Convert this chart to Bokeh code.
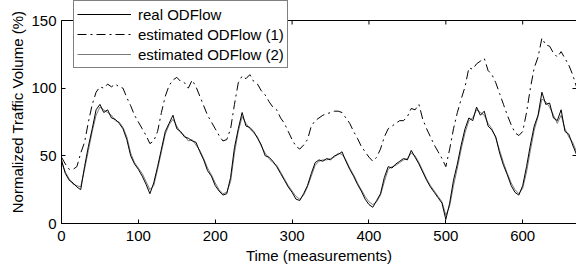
from bokeh.plotting import figure
from bokeh.models import Range1d, LinearAxis, FixedTicker, Legend, LegendItem, Span
from bokeh.embed import file_html
from bokeh.resources import INLINE

# time axis (measurements), sampled every 5
time = list(range(0, 671, 5))

real = [47, 37, 32, 30, 27, 25, 42, 57, 70, 84, 88, 82, 84, 78, 77, 74, 70, 62, 50, 44,
        40, 35, 29, 22, 30, 42, 55, 68, 74, 80, 70, 68, 64, 63, 61, 60, 53, 47, 39, 35,
        28, 24, 21, 22, 34, 56, 70, 82, 72, 71, 68, 63, 58, 50, 49, 46, 42, 37, 32, 27,
        23, 18, 17, 22, 28, 37, 45, 47, 46, 48, 47, 50, 51, 53, 46, 40, 35, 29, 24, 18,
        14, 12, 17, 22, 34, 42, 41, 44, 46, 48, 47, 54, 49, 44, 38, 32, 27, 23, 19, 15,
        3, 15, 32, 44, 58, 70, 78, 76, 86, 80, 83, 72, 69, 64, 52, 43, 36, 28, 23, 21,
        28, 42, 58, 72, 80, 97, 88, 89, 78, 76, 84, 68, 66, 58, 51]

est1 = [49, 44, 40, 40, 42, 52, 60, 75, 88, 97, 101, 100, 103, 101, 103, 101, 100, 93, 87, 80,
        75, 70, 65, 59, 61, 68, 82, 94, 102, 106, 108, 105, 104, 100, 106, 101, 94, 87, 80, 75,
        70, 65, 61, 62, 70, 88, 104, 109, 107, 110, 105, 103, 98, 95, 90, 86, 84, 78, 74, 68,
        62, 57, 55, 58, 62, 72, 76, 78, 80, 81, 82, 83, 83, 82, 78, 74, 68, 63, 57, 53,
        49, 46, 49, 55, 64, 70, 72, 74, 76, 76, 79, 85, 84, 88, 77, 70, 64, 58, 53, 48,
        42, 55, 70, 82, 92, 101, 115, 114, 118, 120, 122, 113, 110, 104, 96, 88, 80, 73, 67, 65,
        68, 82, 100, 115, 123, 137, 132, 131, 126, 123, 127, 122, 117, 110, 101]

est2 = [45, 38, 33, 29, 28, 27, 40, 54, 68, 80, 86, 84, 82, 80, 76, 75, 71, 64, 52, 45,
        41, 37, 31, 25, 28, 40, 53, 66, 73, 77, 72, 67, 65, 61, 62, 58, 54, 48, 41, 36,
        30, 25, 22, 23, 31, 52, 68, 79, 74, 70, 67, 64, 57, 52, 48, 45, 43, 38, 33, 28,
        24, 20, 18, 21, 27, 35, 43, 46, 47, 47, 48, 49, 52, 51, 47, 41, 36, 30, 25, 20,
        16, 14, 16, 21, 31, 40, 42, 43, 45, 47, 48, 52, 50, 45, 39, 33, 28, 24, 20, 16,
        6, 13, 28, 41, 55, 67, 76, 78, 84, 82, 80, 74, 70, 63, 54, 45, 37, 30, 25, 22,
        26, 38, 54, 69, 79, 92, 90, 86, 80, 74, 80, 70, 64, 60, 53]

x_ticks = [0, 100, 200, 300, 400, 500, 600]
y_ticks = [0, 50, 100, 150]
labels = ["real ODFlow", "estimated ODFlow (1)", "estimated ODFlow (2)"]

FONT = "Liberation Sans"
Y_MAX = 150
# extra room above the box (in data units) so the legend can sit above it
Y_TOP = Y_MAX * 223.0 / 203.0
TICK = Y_MAX * 4.0 / 203.0

p = figure(output_backend="svg", toolbar_location=None,
           width=576, height=268,
           min_border_left=61, min_border_right=0, min_border_top=0, min_border_bottom=45,
           x_range=Range1d(0, 670), y_range=Range1d(0, Y_TOP),
           background_fill_color="white", border_fill_color="white")
p.xgrid.visible = False
p.ygrid.visible = False
p.outline_line_color = None

r1 = p.line(time, est1, line_color="black", line_width=1, line_dash="9 4 2 4")
r2 = p.line(time, est2, line_color="#7a7a7a", line_width=1)
r0 = p.line(time, real, line_color="black", line_width=1)

# top edge of the box with inward ticks
p.add_layout(Span(location=Y_MAX, dimension="width", line_color="black", line_width=1))
p.segment(x0=x_ticks, y0=[Y_MAX] * len(x_ticks), x1=x_ticks,
          y1=[Y_MAX - TICK] * len(x_ticks), line_color="black", line_width=1)

def style(ax, labels_on):
    ax.axis_line_color = "black"
    ax.axis_line_width = 1
    ax.major_tick_in = 4
    ax.major_tick_out = 0
    ax.minor_tick_line_color = None
    ax.major_tick_line_color = "black"
    if labels_on:
        ax.major_label_text_font = FONT
        ax.major_label_text_font_size = "15px"
        ax.major_label_text_color = "black"
        ax.axis_label_text_font = FONT
        ax.axis_label_text_font_size = "15px"
        ax.axis_label_text_font_style = "normal"
        ax.axis_label_text_color = "black"
    else:
        ax.major_label_text_font_size = "0px"
        ax.major_label_standoff = 0
        ax.axis_label = None

xa = p.xaxis[0]
xa.ticker = FixedTicker(ticks=x_ticks)
xa.axis_label = "Time (measurements)"
style(xa, True)
xa.major_label_standoff = 7
xa.axis_label_standoff = 3

ya = p.yaxis[0]
ya.ticker = FixedTicker(ticks=y_ticks)
ya.bounds = (0, Y_MAX)
ya.axis_label = "Normalized Traffic Volume (%)"
style(ya, True)
ya.major_label_standoff = 5
ya.axis_label_standoff = 2

right = LinearAxis(ticker=FixedTicker(ticks=y_ticks), bounds=(0, Y_MAX))
style(right, False)
p.add_layout(right, "right")

legend = Legend(items=[LegendItem(label=labels[0], renderers=[r0]),
                       LegendItem(label=labels[1], renderers=[r1]),
                       LegendItem(label=labels[2], renderers=[r2])],
                location=(12, 155))
legend.label_text_font = FONT
legend.label_text_font_size = "15px"
legend.label_text_color = "black"
legend.glyph_width = 54
legend.glyph_height = 20
legend.label_height = 20
legend.label_standoff = 7
legend.spacing = 0
legend.padding = 3
legend.margin = 0
legend.border_line_color = "black"
legend.border_line_width = 1
legend.background_fill_color = "white"
legend.background_fill_alpha = 1
p.add_layout(legend, "center")

open("out.html", "w").write(file_html(p, INLINE))
